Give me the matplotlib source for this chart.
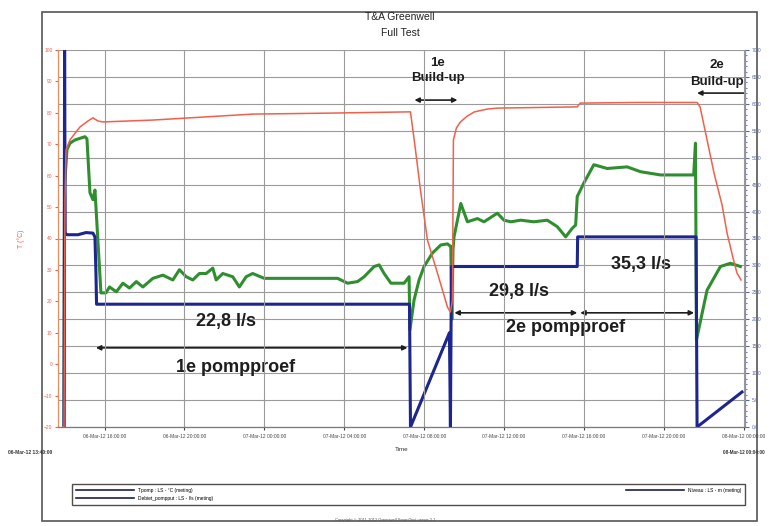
import datetime as dt
import matplotlib
matplotlib.use("Agg")
import matplotlib.pyplot as plt
import matplotlib.dates as mdates
from matplotlib.lines import Line2D
from matplotlib.patches import Rectangle

plt.rcParams['font.family'] = ['Liberation Sans', 'DejaVu Sans']

# start of the logging and length of the window (hours)
t0 = dt.datetime(2012, 3, 6, 13, 40, 0)
span_h = 34.4

# temperature (left axis), hours since start
red_h = [0.25, 0.30, 0.35, 0.40, 0.60, 1.10, 1.50, 1.75, 2.00, 2.25,
         3.50, 4.75, 9.75, 13.5, 17.5, 17.65, 17.9, 18.15, 18.5, 19.0,
         19.5, 19.65, 19.75, 19.8, 19.95, 20.15, 20.5, 20.85, 21.5, 22.0,
         26.0, 26.15, 29.0, 32.0, 32.15, 32.5, 32.85, 33.25, 33.5, 33.8,
         34.0, 34.2]
red_v = [-20, -20, 52.3, 68.2, 71.4, 75.5, 77.4, 78.4, 77.4, 77.1,
         77.4, 77.7, 79.6, 79.9, 80.3, 80.3, 68.2, 55.4, 39.5, 29.0,
         18.2, 16.6, 20.4, 71.4, 75.2, 77.1, 79.0, 80.3, 81.2, 81.5,
         81.9, 83.1, 83.3, 83.3, 81.9, 71.4, 60.8, 50.7, 41.8, 33.8,
         29.0, 26.8]

# drawdown (right axis)
green_h = [0.30, 0.33, 0.45, 0.60, 0.85, 1.35, 1.45, 1.60, 1.75, 1.85,
           1.90, 2.15, 2.40, 2.58, 2.92, 3.25, 3.58, 3.92, 4.25, 4.75,
           5.25, 5.75, 6.08, 6.42, 6.75, 7.08, 7.42, 7.75, 7.92, 8.25,
           8.75, 9.08, 9.42, 9.75, 10.33, 14.0, 14.5, 15.0, 15.33, 15.83,
           16.08, 16.33, 16.67, 17.33, 17.58, 17.62, 17.83, 18.08, 18.33, 18.75,
           19.17, 19.5, 19.67, 19.72, 19.78, 19.83, 20.17, 20.5, 21.0, 21.33,
           22.0, 22.33, 22.67, 23.17, 23.83, 24.5, 25.0, 25.42, 25.75, 25.92,
           26.0, 26.33, 26.83, 27.5, 28.5, 29.17, 30.17, 31.17, 31.83, 31.92,
           31.97, 32.5, 33.17, 33.67, 34.17]
green_v = [0.0, 45.0, 51.5, 52.7, 53.3, 53.9, 53.5, 43.5, 42.2, 44.0,
           40.9, 24.9, 24.9, 26.0, 25.1, 26.7, 25.8, 27.0, 26.0, 27.6,
           28.2, 27.3, 29.2, 27.9, 27.3, 28.5, 28.5, 29.5, 27.3, 28.5,
           27.9, 26.0, 27.9, 28.5, 27.6, 27.6, 26.7, 27.0, 27.9, 29.8,
           30.1, 28.5, 26.7, 26.7, 27.9, 18.0, 23.6, 27.3, 29.8, 32.3,
           33.8, 34.0, 33.5, 20.0, 33.0, 35.3, 41.5, 38.1, 38.7, 38.1,
           39.7, 38.4, 38.1, 38.4, 38.1, 38.4, 37.2, 35.3, 36.9, 37.5,
           42.8, 45.3, 48.7, 48.0, 48.3, 47.4, 46.8, 46.8, 46.8, 52.7,
           16.2, 25.4, 29.8, 30.4, 29.8]

# pumping rate l/s (right axis)
blue_h = [0.30, 0.33, 0.36, 0.45, 1.0, 1.4, 1.75, 1.85, 1.90, 1.93,
          17.6, 17.65, 19.6, 19.65, 19.7, 26.0, 26.02, 31.95, 32.0, 34.25]
blue_v = [0.0, 70.0, 36.0, 35.7, 35.7, 36.1, 36.0, 35.3, 28.6, 22.8,
          22.8, 0.0, 17.5, 0.0, 29.8, 29.8, 35.3, 35.3, 0.0, 6.5]

legend_labels = ['Tpomp : LS - °C (meting)', 'Debiet_pompput : LS - l/s (meting)',
                 'Niveau : LS - m (meting)']


def to_time(hours):
    return [t0 + dt.timedelta(hours=h) for h in hours]


def xnum(h):
    return mdates.date2num(t0 + dt.timedelta(hours=h))


W, H = 769, 526
fig = plt.figure(figsize=(W / 100, H / 100), dpi=100)
ax = fig.add_axes([58 / W, (H - 427) / H, 687 / W, 377 / H])
ax2 = ax.twinx()
ax.set_zorder(2)
ax2.set_zorder(1)
ax.patch.set_visible(False)
ax2.patch.set_visible(True)
ax2.patch.set_facecolor('white')

ax.set_xlim(t0, t0 + dt.timedelta(hours=span_h))
ax.set_ylim(-20, 100)
ax2.set_ylim(0, 70)

ax2.plot(to_time(green_h), green_v, color='#2f8f2f', lw=2.2)
ax2.plot(to_time(blue_h), blue_v, color='#1c2590', lw=2.2)
ax.plot(to_time(red_h), red_v, color='#f0604a', lw=1.1)

# axes and grid
ax.xaxis.set_major_locator(mdates.HourLocator(byhour=[0, 4, 8, 12, 16, 20]))
ax.xaxis.set_major_formatter(mdates.DateFormatter('%d-%b-%y %H:%M:%S'))
ax.grid(axis='x', color='#9a9a9a', lw=0.8)
ax2.set_yticks(range(0, 71, 5))
ax2.yaxis.set_minor_locator(plt.MultipleLocator(1))
ax2.yaxis.set_major_formatter(plt.FormatStrFormatter('%.1f'))
ax2.grid(axis='y', color='#9a9a9a', lw=0.8)
ax.set_yticks(range(-20, 101, 10))

ax.tick_params(axis='x', labelsize=3.5, colors='#444444', length=2, pad=3)
ax.tick_params(axis='y', labelsize=3.5, colors='#f0604a', length=2, pad=2)
ax2.tick_params(axis='y', which='both', labelsize=3.5, colors='#5a66aa', pad=2)
ax2.tick_params(axis='y', which='major', length=3)
ax2.tick_params(axis='y', which='minor', length=1.5)
for a in (ax, ax2):
    a.spines['left'].set_color('#f08a5a')
    a.spines['right'].set_color('#8890b8')
    a.spines['top'].set_visible(False)
    a.spines['bottom'].set_color('#777777')

ax.set_ylabel('T (°C)', color='#f0604a', fontsize=5, labelpad=14)
ax.set_xlabel('Time', fontsize=4.5, color='#333333', labelpad=6)

# annotations
txt = dict(ha='center', va='center', color='#1e1e1e', fontweight='bold')
arr = dict(arrowstyle='<|-|>', color='#1e1e1e', lw=1.2, mutation_scale=7,
           shrinkA=0, shrinkB=0)
one = dict(arrowstyle='-|>', color='#1e1e1e', lw=1.2, mutation_scale=7,
           shrinkA=0, shrinkB=0)

ax2.text(xnum(19.0), 67.6, '1e', fontsize=9.5, **txt)
ax2.text(xnum(19.0), 64.8, 'Build-up', fontsize=9.5, **txt)
ax2.annotate('', xy=(xnum(20.0), 60.7), xytext=(xnum(17.85), 60.7), arrowprops=arr)

ax2.text(xnum(33.0), 67.2, '2e', fontsize=9.5, **txt)
ax2.text(xnum(33.0), 64.1, 'Build-up', fontsize=9.5, **txt)
ax2.annotate('', xy=(xnum(32.0), 62.0), xytext=(xnum(span_h), 62.0), arrowprops=one)

ax2.text(xnum(8.4), 19.5, '22,8 l/s', fontsize=13, **txt)
ax2.text(xnum(8.9), 11.0, '1e pompproef', fontsize=13, **txt)
ax2.annotate('', xy=(xnum(17.5), 14.7), xytext=(xnum(1.9), 14.7), arrowprops=arr)

ax2.text(xnum(23.1), 25.1, '29,8 l/s', fontsize=13, **txt)
ax2.text(xnum(29.2), 30.1, '35,3 l/s', fontsize=13, **txt)
ax2.text(xnum(25.4), 18.4, '2e pompproef', fontsize=13, **txt)
ax2.annotate('', xy=(xnum(26.0), 21.2), xytext=(xnum(19.85), 21.2), arrowprops=arr)
ax2.annotate('', xy=(xnum(31.85), 21.2), xytext=(xnum(26.15), 21.2), arrowprops=arr)

# titles
fig.text(400 / W, 1 - 17 / H, 'T&A Greenwell', ha='center', va='center',
         fontsize=7.5, color='#222222')
fig.text(400 / W, 1 - 33 / H, 'Full Test', ha='center', va='center',
         fontsize=7.5, color='#222222')

# start / end stamps
fig.text(8 / W, 1 - 453 / H, t0.strftime('%d-%b-%y %H:%M:%S'), fontsize=3.5,
         fontweight='bold', color='#333333', va='center')
t_end = t0 + dt.timedelta(hours=span_h)
fig.text(765 / W, 1 - 453 / H, t_end.strftime('%d-%b-%y %H:%M:%S'), fontsize=3.3,
         fontweight='bold', color='#333333', va='center', ha='right')

# legend box
handles = [Line2D([], [], color='#1a1f4a', lw=1.2) for _ in legend_labels]
fig.legend(handles, legend_labels, ncol=2, mode='expand', loc='lower left',
           bbox_to_anchor=(72 / W, 1 - 505 / H, 673 / W, 27 / H),
           fontsize=3.5, handlelength=12, frameon=True, fancybox=False,
           edgecolor='#222222', borderaxespad=0, labelspacing=0.6,
           borderpad=0.8)

fig.text(385 / W, 1 - 520 / H, 'Copyright © 2011-2012 Greenwell SmartTest versie 2.1',
         ha='center', va='center', fontsize=3, color='#555555')

# page frame
fig.add_artist(Rectangle((42 / W, 1 - 521 / H), 715 / W, 509 / H,
                         transform=fig.transFigure, fill=False,
                         edgecolor='#555555', lw=1.2))

fig.savefig('out.png', dpi=100)
